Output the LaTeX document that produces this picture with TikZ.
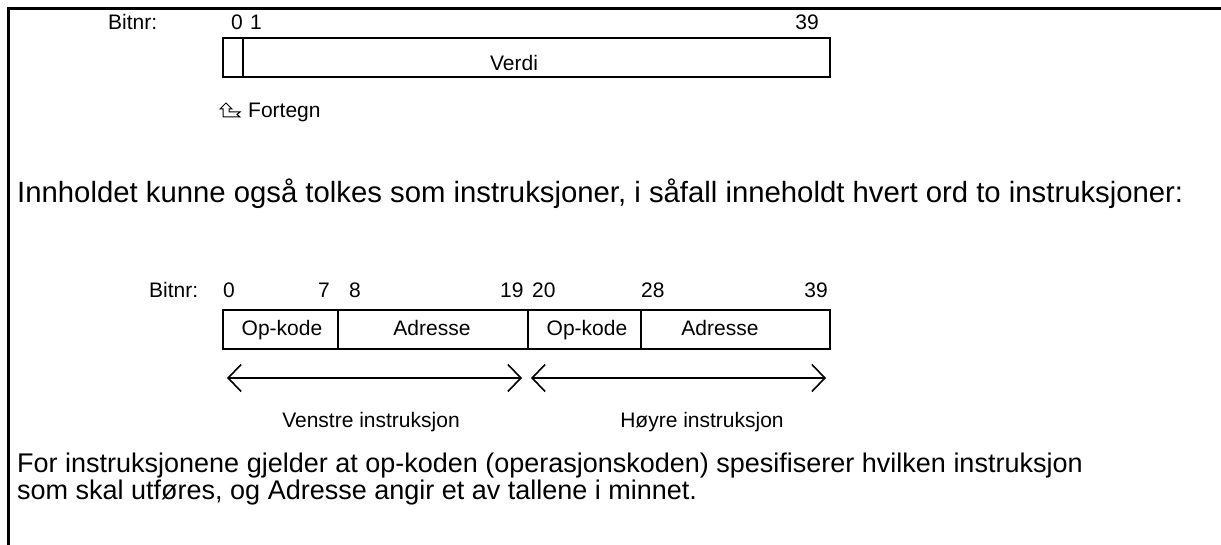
\documentclass[tikz,border=0pt]{standalone}
\usepackage{fontspec}
\setmainfont{Liberation Sans}
\usetikzlibrary{arrows.meta}
\begin{document}
\begin{tikzpicture}[x=1pt,y=-1pt,
  frameline/.style={line width=3pt},
  cell/.style={draw,line width=1.6pt,inner sep=0pt},
  sm/.style={font=\fontsize{21}{24}\selectfont,inner sep=0pt},
  big/.style={font=\fontsize{27}{30}\selectfont,inner sep=0pt,anchor=base west},
  bigger/.style={font=\fontsize{29.3}{32}\selectfont,inner sep=0pt,anchor=base west},
  span/.style={line width=1.6pt,{Straight Barb[length=13pt,width=27pt,line width=1.6pt]}-{Straight Barb[length=13pt,width=27pt,line width=1.6pt]}}
]
\useasboundingbox (0,0) rectangle (1221,545);
% frame
\coordinate (ftr) at (1221,8.5);
\coordinate (ftl) at (8.5,8.5);
\coordinate (fbl) at (8.5,545);
\draw[frameline] (ftr) -- (ftl) -- (fbl);

% top word
\node[sm,anchor=base west] (bit1) at (108,30) {Bitnr:};
\node[sm,anchor=base west] (n0a) at (231,30) {0};
\node[sm,anchor=base west] (n1a) at (250,30) {1};
\node[sm,anchor=base east] (n39a) at (819,30) {39};
\node[cell,minimum width=20pt,minimum height=39pt,anchor=north west] (sign) at (222,37) {};
\node[cell,minimum width=587pt,minimum height=39pt,anchor=north west] (verdi) at (242,37) {};
\node[sm,anchor=base] (verdiT) at (514,71) {Verdi};
% Fortegn symbol
\draw[line width=1pt,line join=miter] (226,103) -- (232,109) -- (229,109) -- (229,112) -- (240,112) -- (237,114.5) -- (240,117) -- (223,117) -- (223,109) -- (220,109) -- cycle;
\node[sm,anchor=base west] (fort) at (248,118) {Fortegn};

% sentence
\node[bigger] (s1) at (17,203) {Innholdet kunne også tolkes som instruksjoner, i såfall inneholdt hvert ord to instruksjoner:};

% second word
\node[sm,anchor=base west] (bit2) at (149,298) {Bitnr:};
\node[sm,anchor=base west] (b0) at (223,298) {0};
\node[sm,anchor=base west] (b7) at (318,298) {7};
\node[sm,anchor=base west] (b8) at (349,298) {8};
\node[sm,anchor=base west] (b19) at (500,298) {19};
\node[sm,anchor=base west] (b20) at (532,298) {20};
\node[sm,anchor=base west] (b28) at (641,298) {28};
\node[sm,anchor=base east] (b39) at (828,298) {39};
\node[cell,minimum width=115pt,minimum height=39pt,anchor=north west] (op1) at (222,309) {};
\node[cell,minimum width=190pt,minimum height=39pt,anchor=north west] (ad1) at (337,309) {};
\node[cell,minimum width=113pt,minimum height=39pt,anchor=north west] (op2) at (527,309) {};
\node[cell,minimum width=189pt,minimum height=39pt,anchor=north west] (ad2) at (640,309) {};
\node[sm,anchor=base] (op1t) at (282,335) {Op-kode};
\node[sm,anchor=base] (ad1t) at (432,335) {Adresse};
\node[sm,anchor=base] (op2t) at (587,335) {Op-kode};
\node[sm,anchor=base] (ad2t) at (720,335) {Adresse};

\coordinate (l1) at (227,378);
\coordinate (r1) at (522,378);
\coordinate (l2) at (531,378);
\coordinate (r2) at (826,378);
\draw[span] (l1) -- (r1);
\draw[span] (l2) -- (r2);
\node[sm,anchor=base] (ven) at (371,427) {Venstre instruksjon};
\node[sm,anchor=base] (hoy) at (702,427) {Høyre instruksjon};

% bottom text
\node[big] (t1) at (17,472) {For instruksjonene gjelder at op-koden (operasjonskoden) spesifiserer hvilken instruksjon};
\node[big] (t2) at (17,499) {som skal utføres, og Adresse angir et av tallene i minnet.};
\end{tikzpicture}
\end{document}
